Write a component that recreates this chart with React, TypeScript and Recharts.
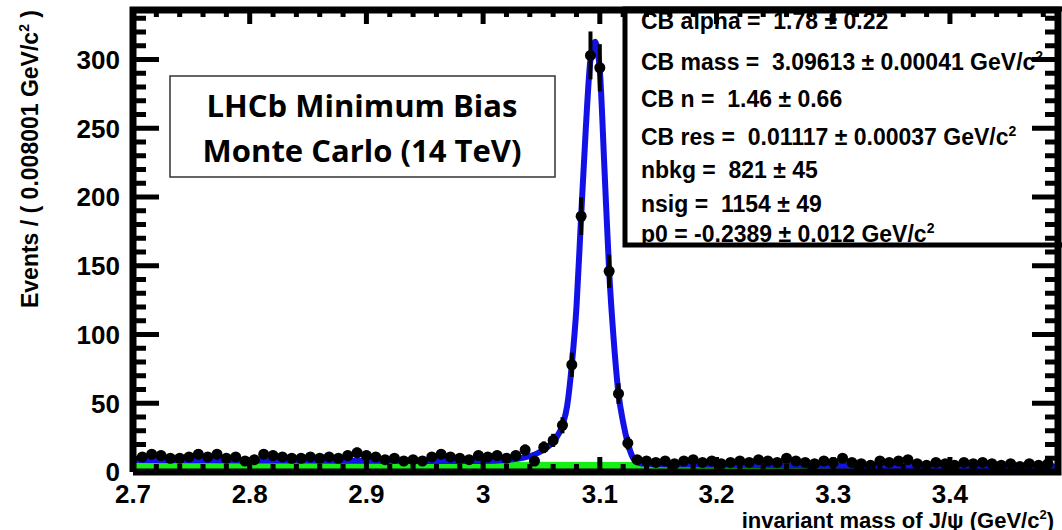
import React from 'react'
import { ComposedChart, Line, Scatter, ErrorBar, XAxis, YAxis } from 'recharts'

// events per bin (0.008 wide)
const binCounts = [
  11, 13, 12, 10, 10, 11, 13, 11, 13, 10,
  11, 8, 9, 13, 12, 11, 10, 10, 11, 10,
  11, 10, 12, 14, 12, 11, 9, 10, 8, 9,
  8, 11, 13, 11, 10, 9, 12, 11, 12, 10,
  12, 16, 8, 18, 23, 34, 78, 186, 303, 294,
  146, 57, 21, 9, 8, 7, 8, 6, 8, 9,
  7, 8, 6, 7, 8, 7, 9, 8, 7, 10,
  8, 7, 6, 8, 7, 10, 7, 6, 5, 8,
  7, 8, 9, 6, 5, 7, 6, 5, 7, 6,
  7, 6, 5, 6, 4, 6, 5, 6,
]
const firstBinCenter = 2.708
const binWidth = 0.008

// total fit (blue)
const fitX = [2.7, 2.75, 2.8, 2.85, 2.9, 2.95, 3.0, 3.02, 3.035, 3.045, 3.055, 3.062, 3.068, 3.072, 3.076, 3.08, 3.084, 3.088, 3.092, 3.096, 3.1, 3.104, 3.108, 3.112, 3.116, 3.12, 3.124, 3.128, 3.132, 3.14, 3.2, 3.3, 3.4, 3.4926]
const fitY = [8.8, 8.6, 8.4, 8.3, 8.1, 8.0, 8.0, 8.8, 10.5, 13, 18, 24, 34, 48, 78, 120, 186, 250, 300, 313, 292, 220, 146, 95, 57, 36, 21, 11, 7, 5.8, 5.3, 4.6, 4.0, 3.6]

// background component (green)
const bkgX = [2.7, 3.4926]
const bkgY = [3.8, 2.8]

const xMajor = [2.7, 2.8, 2.9, 3, 3.1, 3.2, 3.3, 3.4]
const yMajor = [0, 50, 100, 150, 200, 250, 300]

const statLines = [
  { text: 'CB alpha =  1.78 \u00b1 0.22', sup: false },
  { text: 'CB mass =  3.09613 \u00b1 0.00041 GeV/c', sup: true },
  { text: 'CB n =  1.46 \u00b1 0.66', sup: false },
  { text: 'CB res =  0.01117 \u00b1 0.00037 GeV/c', sup: true },
  { text: 'nbkg =  821 \u00b1 45', sup: false },
  { text: 'nsig =  1154 \u00b1 49', sup: false },
  { text: 'p0 = -0.2389 \u00b1 0.012 GeV/c', sup: true },
]
const labelLines = ['LHCb Minimum Bias', 'Monte Carlo (14 TeV)']
const xTitle = 'invariant mass of J/\u03c8 (GeV/c'
const yTitle = 'Events / ( 0.008001 GeV/c'

const W = 1062
const H = 530
const PLOT = { left: 133, top: 10, right: 1058, bottom: 472 }
const X_DOMAIN: [number, number] = [2.7, 3.4926]
const Y_DOMAIN: [number, number] = [0, 336]
const FONT = 'Liberation Sans, Arial, Helvetica, sans-serif'

const points = binCounts.map((n, i) => ({
  x: +(firstBinCenter + i * binWidth).toFixed(3),
  y: n,
  ex: binWidth / 2,
  ey: Math.sqrt(n),
}))
const fitData = fitX.map((x, i) => ({ x, y: fitY[i] }))
const bkgData = bkgX.map((x, i) => ({ x, y: bkgY[i] }))

const xTicks = Array.from({ length: 40 }, (_, i) => +(2.7 + i * 0.02).toFixed(2))
const yTicks = Array.from({ length: 34 }, (_, i) => i * 10)
const isXMajor = (v: number) => xMajor.some(m => Math.abs(m - v) < 1e-6)

// frame corners, drawn as a closed line through the scales
const frameData = [
  { x: X_DOMAIN[0], y: Y_DOMAIN[0] },
  { x: X_DOMAIN[1], y: Y_DOMAIN[0] },
  { x: X_DOMAIN[1], y: Y_DOMAIN[1] },
  { x: X_DOMAIN[0], y: Y_DOMAIN[1] },
  { x: X_DOMAIN[0], y: Y_DOMAIN[0] },
]
// tick anchor points on the four sides of the frame
const bottomMarks = xTicks.map(v => ({ x: v, y: Y_DOMAIN[0], major: isXMajor(v) }))
const topMarks = xTicks.map(v => ({ x: v, y: Y_DOMAIN[1], major: isXMajor(v) }))
const leftMarks = yTicks.map(v => ({ x: X_DOMAIN[0], y: v, major: yMajor.includes(v) }))
const rightMarks = yTicks.map(v => ({ x: X_DOMAIN[1], y: v, major: yMajor.includes(v) }))

const statRowY = [29, 70, 107, 145, 178, 212, 242]

const isMajor = (p: any) => Boolean(p.payload ? p.payload.major : p.major)
const BottomMark = (p: any) => { const l = isMajor(p) ? 15 : 8; return <rect x={p.cx - 2.5} y={p.cy - l} width={5} height={l} fill="#000" /> }
const TopMark = (p: any) => { const l = isMajor(p) ? 14 : 7; return <rect x={p.cx - 2.5} y={p.cy} width={5} height={l} fill="#000" /> }
const LeftMark = (p: any) => { const l = isMajor(p) ? 26 : 13; return <rect x={p.cx} y={p.cy - 2.5} width={l} height={5} fill="#000" /> }
const RightMark = (p: any) => { const l = isMajor(p) ? 26 : 13; return <rect x={p.cx - l} y={p.cy - 2.5} width={l} height={5} fill="#000" /> }

function XLabel(props: any) {
  const v = props.payload.value
  if (!isXMajor(v)) return <g />
  return (
    <text x={props.x} y={Number(props.y) + 31} textAnchor="middle" fontSize={26} fontWeight="bold" fontFamily={FONT} fill="#000">
      {String(v)}
    </text>
  )
}

function YLabel(props: any) {
  const v = props.payload.value
  if (!yMajor.includes(v)) return <g />
  return (
    <text x={Number(props.x) - 13} y={props.y} dy="0.36em" textAnchor="end" fontSize={26} fontWeight="bold" fontFamily={FONT} fill="#000">
      {v}
    </text>
  )
}

const Dot = (props: any) => <circle cx={props.cx} cy={props.cy} r={5.5} fill="#000" />

export default function App() {
  return (
    <div style={{ position: 'absolute', left: 0, top: 0, width: W, height: H, overflow: 'hidden', background: '#fff' }}>
      <ComposedChart width={W} height={H} margin={{ top: PLOT.top, right: W - PLOT.right, bottom: 0, left: 0 }}>
        <XAxis
          dataKey="x"
          type="number"
          domain={X_DOMAIN}
          ticks={xTicks}
          interval={0}
          height={H - PLOT.bottom}
          tickSize={0}
          tickMargin={0}
          axisLine={false}
          tickLine={false}
          tick={XLabel}
        />
        <YAxis
          dataKey="y"
          type="number"
          domain={Y_DOMAIN}
          ticks={yTicks}
          interval={0}
          width={PLOT.left}
          tickSize={0}
          tickMargin={0}
          axisLine={false}
          tickLine={false}
          tick={YLabel}
        />
        <Line data={bkgData} dataKey="y" type="linear" stroke="#16ee16" strokeWidth={11} dot={false} activeDot={false} isAnimationActive={false} />
        <Line data={fitData} dataKey="y" type="monotone" stroke="#1212e8" strokeWidth={6} dot={false} activeDot={false} isAnimationActive={false} />
        <Line data={frameData} dataKey="y" type="linear" stroke="#000" strokeWidth={7} strokeLinejoin="miter" dot={false} activeDot={false} isAnimationActive={false} />
        <Scatter data={points} dataKey="y" fill="#000" shape={Dot} isAnimationActive={false}>
          <ErrorBar dataKey="ey" direction="y" width={0} stroke="#000" strokeWidth={4} />
          <ErrorBar dataKey="ex" direction="x" width={0} stroke="#000" strokeWidth={4} />
        </Scatter>
        <Scatter data={bottomMarks} dataKey="y" fill="#000" shape={BottomMark} isAnimationActive={false} />
        <Scatter data={topMarks} dataKey="y" fill="#000" shape={TopMark} isAnimationActive={false} />
        <Scatter data={leftMarks} dataKey="y" fill="#000" shape={LeftMark} isAnimationActive={false} />
        <Scatter data={rightMarks} dataKey="y" fill="#000" shape={RightMark} isAnimationActive={false} />
      </ComposedChart>

      <svg width={W} height={H} style={{ position: 'absolute', left: 0, top: 0, pointerEvents: 'none' }}>
        {/* label box */}
        <rect x={170} y={76} width={385} height={101} fill="none" stroke="#333" strokeWidth={1.5} />
        {labelLines.map((t, i) => (
          <text key={t} x={362} y={117 + i * 45} textAnchor="middle" fontSize={31} fontWeight="bold" fontFamily="Open Sans, Lato, sans-serif" fill="#000">
            {t}
          </text>
        ))}

        {/* fit parameters */}
        <rect x={625} y={9} width={460} height={236} fill="none" stroke="#000" strokeWidth={5} />
        {statLines.map((l, i) => (
          <text key={i} x={641} y={statRowY[i]} fontSize={23} fontWeight="bold" fontFamily={FONT} fill="#000" style={{ whiteSpace: 'pre' }}>
            {l.text}
            {l.sup && <tspan dy={-9} fontSize={14}>2</tspan>}
          </text>
        ))}

        {/* axis titles */}
        <text x={1054} y={528} textAnchor="end" fontSize={22} fontWeight="bold" fontFamily={FONT} fill="#000">
          {xTitle}
          <tspan dy={-9} fontSize={13}>2</tspan>
          <tspan dy={9}>)</tspan>
        </text>
        <text x={38} y={10} textAnchor="end" transform="rotate(-90 38 10)" fontSize={23} fontWeight="bold" fontFamily={FONT} fill="#000" style={{ whiteSpace: 'pre' }}>
          {yTitle}
          <tspan dy={-9} fontSize={14}>2</tspan>
          <tspan dy={9}> )</tspan>
        </text>
      </svg>
    </div>
  )
}
